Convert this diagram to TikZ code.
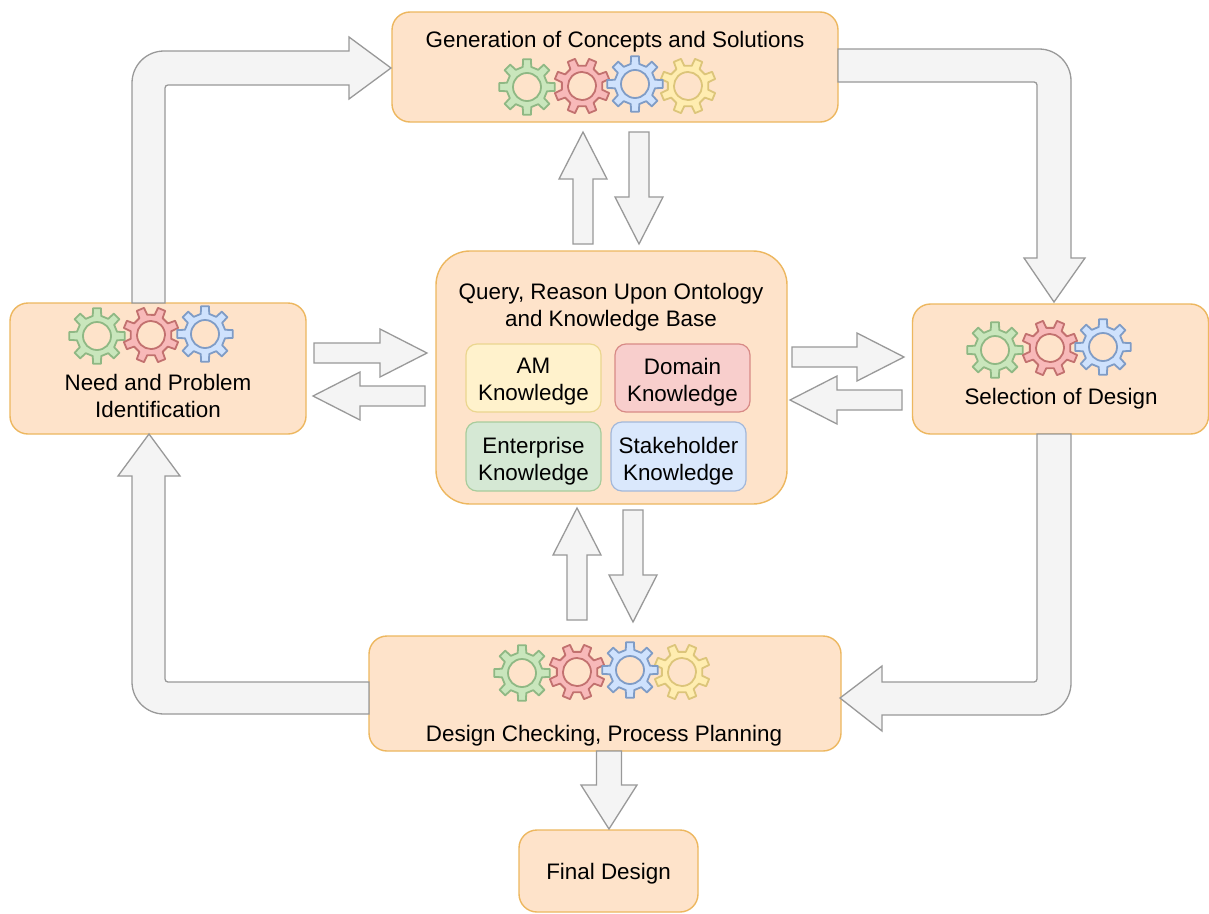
\documentclass[tikz,border=0pt]{standalone}
\usepackage{fontspec}
\setmainfont{Liberation Sans}
\usetikzlibrary{calc}
\definecolor{boxfill}{HTML}{FEE3CA}
\definecolor{boxline}{HTML}{EDB75F}
\definecolor{arrfill}{HTML}{F4F4F4}
\definecolor{arrline}{HTML}{999999}
\definecolor{amfill}{HTML}{FFF2CC}\definecolor{amline}{HTML}{EBD68F}
\definecolor{dofill}{HTML}{F8CECC}\definecolor{doline}{HTML}{D88A86}
\definecolor{enfill}{HTML}{D5E8D4}\definecolor{enline}{HTML}{A8CC9C}
\definecolor{stfill}{HTML}{DAE8FC}\definecolor{stline}{HTML}{A3B8DA}
\definecolor{ggreen}{HTML}{C9E6BC}\definecolor{lgreen}{HTML}{8FB884}
\definecolor{gred}{HTML}{F8B9B9}\definecolor{lred}{HTML}{C2716F}
\definecolor{gblue}{HTML}{CFE2FD}\definecolor{lblue}{HTML}{7F9CC6}
\definecolor{gyellow}{HTML}{FFEDB0}\definecolor{lyellow}{HTML}{DCC57A}
\tikzset{
  x=1pt,y=-1pt,
  bigbox/.style={draw=boxline,fill=boxfill,line width=1.4pt,rounded corners=18pt,inner sep=0pt},
  kbox/.style={line width=1.2pt,rounded corners=11pt,inner sep=0pt},
  lbltext/.style={inner sep=0pt,align=center,font=\lbl},
  blockarr/.style={draw=arrline,fill=arrfill,line width=1.3pt,line join=miter},
  gearshape/.style={line width=1.8pt,line join=round,even odd rule}
}
\newcommand{\lbl}{\fontsize{22.4}{26.8}\selectfont}
% block arrow: from, to, shaft half width, head half width, head length
\newcommand{\blockarrow}[5]{
  \coordinate (hb) at ($(#2)!#5pt!(#1)$);
  \draw[blockarr]
    ($(#1)!#3pt!90:(#2)$) -- ($(hb)!#3pt!-90:(#1)$) -- ($(hb)!#4pt!-90:(#1)$) -- (#2)
    -- ($(hb)!#4pt!90:(#1)$) -- ($(hb)!#3pt!90:(#1)$) -- ($(#1)!#3pt!-90:(#2)$) -- cycle;
}
% gear: x, y, rotation, fill, line
\newcommand{\gear}[5]{
  \begin{scope}[shift={(#1,#2)},rotate=#3]
    \draw[gearshape,fill=#4,draw=#5]
      (-12:20.5)
      \foreach \a in {0,45,...,315}{
        -- ({\a-12}:20.5) -- ({\a-8}:28) -- ({\a+8}:28) -- ({\a+12}:20.5) -- ({\a+33}:20.5)
      } -- cycle
      (0,0) circle[radius=14];
  \end{scope}
}
\begin{document}
\begin{tikzpicture}
\useasboundingbox (0,0) rectangle (1209,913);
\fill[white] (0,0) rectangle (1209,913);
% boxes
\node[bigbox,minimum width=446pt,minimum height=110pt] (gen) at (615,67) {};
\node[bigbox,minimum width=296pt,minimum height=131pt] (need) at (158,368.5) {};
\node[bigbox,rounded corners=34pt,minimum width=351pt,minimum height=253pt] (query) at (611.5,377.5) {};
\node[bigbox,minimum width=296pt,minimum height=130pt] (sel) at (1060.5,369) {};
\node[bigbox,minimum width=472pt,minimum height=115pt] (check) at (605,693.5) {};
\node[bigbox,minimum width=179pt,minimum height=82pt] (final) at (608.5,871) {};
% labels in boxes
\node[lbltext] (gent) at (615,41.5) {Generation of Concepts and Solutions};
\node[lbltext] (needt) at (158,396) {Need and Problem\\Identification};
\node[lbltext] (queryt) at (611,307) {Query, Reason Upon Ontology\\and Knowledge Base};
\node[lbltext] (selt) at (1061,398.5) {Selection of Design};
\node[lbltext] (checkt) at (604,735.5) {Design Checking, Process Planning};
\node[lbltext] (finalt) at (608.5,873.5) {Final Design};
% knowledge boxes
\node[kbox,draw=amline,fill=amfill,minimum width=135pt,minimum height=68pt] (am) at (533.5,378) {};
\node[kbox,draw=doline,fill=dofill,minimum width=135pt,minimum height=68pt] (dom) at (682.5,378) {};
\node[kbox,draw=enline,fill=enfill,minimum width=135pt,minimum height=69pt] (ent) at (533.5,456.5) {};
\node[kbox,draw=stline,fill=stfill,minimum width=135pt,minimum height=69pt] (sta) at (678.5,456.5) {};
\node[lbltext] (amt) at (533.5,382) {AM\\Knowledge};
\node[lbltext] (domt) at (682.5,382) {Domain\\Knowledge};
\node[lbltext] (entt) at (533.5,461) {Enterprise\\Knowledge};
\node[lbltext] (stat) at (678.5,461) {Stakeholder\\Knowledge};
% gears
\gear{527}{87}{0}{ggreen}{lgreen}\gear{582}{86}{22.5}{gred}{lred}\gear{688}{86}{22.5}{gyellow}{lyellow}\gear{635}{84}{0}{gblue}{lblue}
\gear{97}{336}{0}{ggreen}{lgreen}\gear{151}{335}{22.5}{gred}{lred}\gear{205}{334}{0}{gblue}{lblue}
\gear{995}{350}{0}{ggreen}{lgreen}\gear{1050}{348}{22.5}{gred}{lred}\gear{1103}{347}{0}{gblue}{lblue}
\gear{522}{673}{0}{ggreen}{lgreen}\gear{577}{672}{22.5}{gred}{lred}\gear{682}{672}{22.5}{gyellow}{lyellow}\gear{630}{670}{0}{gblue}{lblue}
% straight block arrows
\coordinate (a1s) at (583,244);\coordinate (a1e) at (583,132);
\coordinate (a2s) at (639,132);\coordinate (a2e) at (639,244);
\coordinate (a3s) at (314,353);\coordinate (a3e) at (427,353);
\coordinate (a4s) at (425,396);\coordinate (a4e) at (313,396);
\coordinate (a5s) at (792,357);\coordinate (a5e) at (904,357);
\coordinate (a6s) at (902,400);\coordinate (a6e) at (790,400);
\coordinate (a7s) at (577,620);\coordinate (a7e) at (577,508);
\coordinate (a8s) at (633,510);\coordinate (a8e) at (633,622);
\coordinate (a9s) at (609,751);\coordinate (a9e) at (609,829);
\blockarrow{a1s}{a1e}{10}{24}{47}
\blockarrow{a2s}{a2e}{10}{24}{47}
\blockarrow{a3s}{a3e}{10}{24}{47}
\blockarrow{a4s}{a4e}{10}{24}{47}
\blockarrow{a5s}{a5e}{10}{24}{47}
\blockarrow{a6s}{a6e}{10}{24}{47}
\blockarrow{a7s}{a7e}{10}{24}{47}
\blockarrow{a8s}{a8e}{10}{24}{47}
\blockarrow{a9s}{a9e}{12.5}{28}{44}
% elbow block arrows
\draw[blockarr] (132,303) [rounded corners=32pt] -- (132,51) [sharp corners] -- (349,51) -- (349,37) -- (391,68) -- (349,99) -- (349,85) [rounded corners=3pt] -- (165,85) [sharp corners] -- (165,303) -- cycle;
\draw[blockarr] (838,49) [rounded corners=32pt] -- (1071,49) [sharp corners] -- (1071,258) -- (1085,258) -- (1054,302) -- (1024,258) -- (1037,258) [rounded corners=3pt] -- (1037,82) [sharp corners] -- (838,82) -- cycle;
\draw[blockarr] (1071,434) [rounded corners=32pt] -- (1071,715) [sharp corners] -- (882,715) -- (882,731) -- (840,698) -- (882,666) -- (882,682) [rounded corners=3pt] -- (1037,682) [sharp corners] -- (1037,434) -- cycle;
\draw[blockarr] (369,714) [rounded corners=32pt] -- (132,714) [sharp corners] -- (132,476) -- (118,476) -- (149,434) -- (180,476) -- (165,476) [rounded corners=3pt] -- (165,682) [sharp corners] -- (369,682) -- cycle;
\end{tikzpicture}
\end{document}
